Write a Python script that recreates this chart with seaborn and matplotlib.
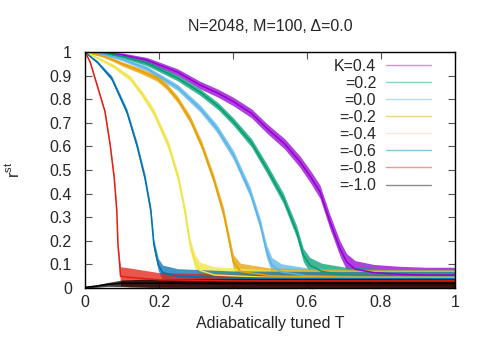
import numpy as np
import pandas as pd
import matplotlib
matplotlib.use("Agg")
import matplotlib.pyplot as plt
from matplotlib.lines import Line2D
import seaborn as sns

# ---- data ----
labels = ["K=0.4", "=0.2", "=0.0", "=-0.2", "=-0.4", "=-0.6", "=-0.8", "=-1.0"]
colors = ["#9400d3", "#009e73", "#56b4e9", "#e69f00", "#f0e442", "#0072b2", "#e51e10", "#000000"]

# T values, centre of the noisy band (r), half-width of the band (s)
T_k04 = [0, .05, .10, .167, .25, .311, .36, .401, .45, .491, .54, .581, .61, .635, .662, .689, .707, .73, .78, .85, .92, 1.0]
r_k04 = [1, .997, .988, .966, .915, .86, .825, .79, .74, .677, .61, .535, .47, .408, .281, .168, .111, .08, .065, .058, .055, .055]
s_k04 = [0, .004, .008, .011, .014, .016, .017, .018, .019, .02, .022, .024, .026, .028, .03, .032, .035, .036, .035, .034, .033, .033]

T_k02 = [0, .05, .10, .167, .25, .311, .36, .401, .45, .491, .536, .572, .59, .608, .64, .70, .80, .90, 1.0]
r_k02 = [1, .995, .982, .952, .89, .83, .77, .705, .615, .507, .38, .239, .14, .097, .07, .055, .05, .048, .048]
s_k02 = [0, .004, .007, .01, .012, .014, .015, .016, .018, .02, .022, .025, .028, .032, .035, .034, .033, .032, .032]

T_k00 = [0, .05, .10, .167, .25, .311, .356, .401, .446, .473, .491, .505, .53, .60, .75, 1.0]
r_k00 = [1, .99, .97, .93, .85, .761, .677, .564, .408, .274, .154, .097, .068, .052, .048, .046]
s_k00 = [0, .004, .007, .01, .013, .015, .017, .019, .021, .024, .028, .032, .035, .033, .032, .032]

T_km02 = [0, .05, .077, .10, .15, .194, .22, .25, .284, .315, .347, .374, .392, .401, .42, .50, .70, 1.0]
r_km02 = [1, .982, .966, .95, .92, .889, .855, .80, .715, .606, .465, .32, .182, .111, .07, .052, .046, .045]
s_km02 = [0, .005, .007, .009, .011, .012, .013, .014, .016, .018, .02, .023, .026, .03, .035, .033, .032, .032]

T_km04 = [0, .04, .077, .122, .155, .185, .225, .252, .27, .284, .297, .31, .35, .50, 1.0]
r_km04 = [1, .97, .94, .889, .82, .747, .606, .466, .325, .184, .113, .075, .055, .045, .042]
s_km04 = [0, .005, .008, .011, .013, .015, .018, .02, .023, .026, .03, .035, .035, .032, .03]

T_km06 = [0, .015, .032, .072, .113, .14, .162, .178, .186, .198, .21, .25, .40, 1.0]
r_km06 = [1, .98, .959, .889, .747, .606, .466, .325, .184, .099, .065, .05, .042, .04]
s_km06 = [0, .004, .006, .01, .013, .015, .017, .019, .022, .026, .032, .032, .03, .03]

T_km08 = [0, .0135, .027, .054, .068, .079, .086, .089, .093, .096, .12, .2, .4, 1.0]
r_km08 = [1, .959, .889, .747, .606, .466, .325, .184, .113, .05, .045, .035, .03, .03]
s_km08 = [0, .003, .004, .005, .006, .007, .008, .01, .015, .04, .04, .03, .028, .028]

T_km10 = [0, .03, .06, .10, .2, .5, 1.0]
r_km10 = [.003, .008, .015, .02, .02, .02, .02]
s_km10 = [.003, .005, .008, .014, .019, .02, .02]

series = [
    (T_k04, r_k04, s_k04),
    (T_k02, r_k02, s_k02),
    (T_k00, r_k00, s_k00),
    (T_km02, r_km02, s_km02),
    (T_km04, r_km04, s_km04),
    (T_km06, r_km06, s_km06),
    (T_km08, r_km08, s_km08),
    (T_km10, r_km10, s_km10),
]

sns.set_theme(style="ticks")
plt.rcParams["font.family"] = ["Liberation Sans", "DejaVu Sans"]
plt.rcParams["mathtext.default"] = "regular"
FS = 11.5

fig = plt.figure(figsize=(4.91, 3.43), dpi=100)
ax = fig.add_axes([85 / 491, 55 / 343, 370 / 491, 236 / 343])

for (T, r, s), lab, col in zip(series, labels, colors):
    T = np.asarray(T, float)
    r = np.asarray(r, float)
    s = np.asarray(s, float)
    lo = np.clip(r - s, 0, 1)
    hi = np.clip(r + s, 0, 1)
    df = pd.DataFrame({"T": np.concatenate([T, T]), "r": np.concatenate([lo, hi])})
    sns.lineplot(data=df, x="T", y="r", ax=ax, color=col, estimator="mean",
                 errorbar=("pi", 100), err_kws={"alpha": 0.75, "linewidth": 0},
                 linewidth=1.1, legend=False)

ax.set_xlim(0, 1)
ax.set_ylim(0, 1)
ax.set_xticks(np.arange(0, 1.01, 0.2))
ax.set_xticklabels(["0", "0.2", "0.4", "0.6", "0.8", "1"])
ax.set_yticks(np.arange(0, 1.01, 0.1))
ax.set_yticklabels(["0", "0.1", "0.2", "0.3", "0.4", "0.5", "0.6", "0.7", "0.8", "0.9", "1"])
ax.tick_params(axis="both", direction="in", length=5, width=0.8, color="#555555",
               labelsize=FS, top=True, right=True)
ax.tick_params(axis="x", pad=5)
ax.tick_params(axis="y", pad=9.5)
for sp in ax.spines.values():
    sp.set_color("black")
    sp.set_linewidth(1.0)

ax.set_xlabel("Adiabatically tuned T", fontsize=FS, labelpad=4.7)
ax.set_ylabel(r"r$^{st}$", fontsize=FS, labelpad=20)
ax.set_title("N=2048, M=100, Δ=0.0", fontsize=FS, pad=14.8)

handles = [Line2D([0], [0], color=c, lw=1.0, alpha=0.45) for c in colors]
ax.legend(handles, labels, loc="upper right", bbox_to_anchor=(0.935, 0.972),
          frameon=False, markerfirst=False, fontsize=FS, handlelength=2.8,
          handletextpad=0.63, labelspacing=0.13, borderpad=0, borderaxespad=0)

fig.savefig("out.png", dpi=100)
